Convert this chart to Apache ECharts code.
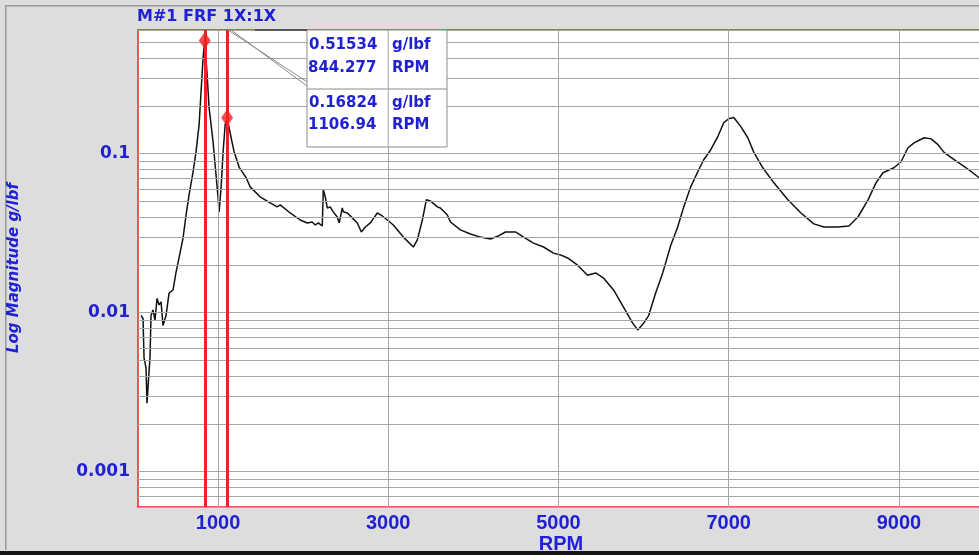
<!DOCTYPE html>
<html>
<head>
<meta charset="utf-8">
<script src="https://cdn.jsdelivr.net/npm/echarts@6/dist/echarts.min.js"></script>
<style>
  html, body { margin: 0; padding: 0; background: #dddddd; }
  #chart { width: 979px; height: 555px; }
</style>
</head>
<body>
<div id="chart"></div>
<script>
// FRF magnitude (RPM, g/lbf)
const rpm = [
  95, 119, 131, 154, 166, 189, 201, 213, 236, 260, 284, 307, 331, 354, 389, 425, 472, 507, 542, 589,
  625, 660, 707, 742, 778, 801, 825, 844, 872, 895, 942, 966, 1001, 1013, 1036, 1060, 1084, 1107, 1154, 1189,
  1250, 1331, 1378, 1495, 1613, 1695, 1731, 1848, 1966, 2048, 2107, 2142, 2178, 2225, 2237, 2260, 2284, 2319, 2354, 2401,
  2425, 2460, 2472, 2519, 2578, 2637, 2684, 2731, 2790, 2872, 2931, 2990, 3060, 3178, 3295, 3342, 3401, 3448, 3495, 3578,
  3613, 3695, 3731, 3848, 3966, 4084, 4201, 4295, 4378, 4495, 4590, 4707, 4825, 4942, 5025, 5107, 5225, 5342, 5437, 5531,
  5648, 5766, 5872, 5931, 6001, 6060, 6142, 6225, 6319, 6401, 6472, 6554, 6637, 6707, 6790, 6872, 6943, 7001, 7060, 7143,
  7225, 7296, 7401, 7531, 7696, 7849, 8001, 8119, 8284, 8413, 8519, 8637, 8731, 8813, 8942, 9025, 9107, 9178, 9296, 9378,
  9460, 9531, 9649, 9790, 9943, 10000
];
const mag = [
  0.0096, 0.0092, 0.0052, 0.0045, 0.0027, 0.0042, 0.0052, 0.0096, 0.0104, 0.0090, 0.0123, 0.0112, 0.0117, 0.0083, 0.0096, 0.0133, 0.0139, 0.0180, 0.0221, 0.0295,
  0.0412, 0.0551, 0.0770, 0.103, 0.152, 0.246, 0.403, 0.515, 0.315, 0.195, 0.119, 0.0852, 0.0528, 0.0431, 0.0610, 0.103, 0.152, 0.168, 0.126, 0.103,
  0.082, 0.0706, 0.0619, 0.0536, 0.0491, 0.0463, 0.0477, 0.0424, 0.0383, 0.0367, 0.0372, 0.0356, 0.0367, 0.0351, 0.0593, 0.0536, 0.0456, 0.0463, 0.0431, 0.0400,
  0.0367, 0.0456, 0.0431, 0.0424, 0.0395, 0.0367, 0.0322, 0.0346, 0.0367, 0.0424, 0.0406, 0.0383, 0.0356, 0.0299, 0.0259, 0.0287, 0.0383, 0.0513, 0.0505, 0.0463,
  0.0456, 0.0412, 0.0372, 0.0332, 0.0313, 0.0299, 0.0291, 0.0304, 0.0322, 0.0322, 0.0299, 0.0274, 0.0259, 0.0237, 0.0231, 0.0221, 0.0199, 0.0172, 0.0178, 0.0165,
  0.0139, 0.0108, 0.0086, 0.0078, 0.0086, 0.0096, 0.0133, 0.0178, 0.0265, 0.0346, 0.0463, 0.0619, 0.0770, 0.0917, 0.106, 0.128, 0.157, 0.166, 0.169, 0.148,
  0.126, 0.102, 0.0816, 0.0656, 0.0513, 0.0424, 0.0362, 0.0346, 0.0346, 0.0351, 0.0400, 0.0513, 0.0656, 0.0759, 0.0816, 0.0890, 0.109, 0.117, 0.126, 0.124,
  0.114, 0.102, 0.0917, 0.0816, 0.0706, 0.067
];

const xTicks = [1000, 3000, 5000, 7000, 9000];
const yTicks = [0.001, 0.01, 0.1];
// log grid: 6..9 e-4, 1..9 e-3, 1..9 e-2, 1..6 e-1
const yGrid = [
  0.0006, 0.0007, 0.0008, 0.0009,
  0.001, 0.002, 0.003, 0.004, 0.005, 0.006, 0.007, 0.008, 0.009,
  0.01, 0.02, 0.03, 0.04, 0.05, 0.06, 0.07, 0.08, 0.09,
  0.1, 0.2, 0.3, 0.4, 0.5, 0.6
];

const markerRpm = [844.277, 1106.94];
const markerMag = [0.51534, 0.16824];
const markerText = [
  ['0.51534', 'g/lbf', '844.277', 'RPM'],
  ['0.16824', 'g/lbf', '1106.94', 'RPM']
];

const BLUE = '#2121d4';
const RED = '#ee2222';
const GRIDC = '#a6a6a6';

const chart = echarts.init(document.getElementById('chart'));

const option = {
  backgroundColor: '#dddddd',
  animation: false,
  title: {
    text: 'M#1 FRF 1X:1X',
    left: 137,
    top: 9,
    padding: 0,
    textStyle: { color: BLUE, fontFamily: 'DejaVu Sans', fontWeight: 'bold', fontSize: 16 }
  },
  grid: {
    left: 138,
    top: 30,
    width: 846,
    height: 477,
    outerBoundsMode: 'none',
    containLabel: false,
    show: true,
    backgroundColor: '#ffffff',
    borderColor: RED,
    borderWidth: 1.5
  },
  xAxis: {
    type: 'value',
    min: 60,
    max: 10000,
    axisLine: { show: false },
    splitLine: { show: false },
    axisTick: { show: true, inside: true, length: 4, customValues: xTicks, lineStyle: { color: RED } },
    axisLabel: {
      customValues: xTicks,
      formatter: v => String(v),
      color: BLUE,
      fontFamily: 'Liberation Sans',
      fontWeight: 'bold',
      fontSize: 20,
      margin: 6
    },
    name: 'RPM',
    nameLocation: 'middle',
    nameGap: 27,
    nameMoveOverlap: false,
    nameTextStyle: { color: BLUE, fontFamily: 'Liberation Sans', fontWeight: 'bold', fontSize: 20 }
  },
  yAxis: {
    type: 'log',
    logBase: 10,
    min: 0.0006,
    max: 0.6,
    axisLine: { show: false },
    splitLine: { show: false },
    minorSplitLine: { show: false },
    axisTick: { show: true, inside: true, length: 4, customValues: yTicks, lineStyle: { color: RED } },
    axisLabel: {
      customValues: yTicks,
      formatter: v => String(v),
      color: BLUE,
      fontFamily: 'DejaVu Sans',
      fontWeight: 'bold',
      fontSize: 17,
      margin: 8
    }
  },
  series: [
    {
      // grid lines
      type: 'scatter',
      data: [],
      z: 1,
      silent: true,
      markLine: {
        silent: true,
        precision: 6,
        symbol: 'none',
        label: { show: false },
        lineStyle: { color: GRIDC, width: 1, type: 'solid' },
        data: yGrid.map(v => ({ yAxis: v })).concat(xTicks.map(v => ({ xAxis: v })))
      }
    },
    {
      type: 'line',
      data: rpm.map((r, i) => [r, mag[i]]),
      showSymbol: false,
      z: 3,
      lineStyle: { color: '#111111', width: 1.5 }
    },
    {
      type: 'scatter',
      data: markerRpm.map((r, i) => [r, markerMag[i]]),
      symbol: 'diamond',
      symbolSize: [12, 17],
      itemStyle: { color: RED },
      z: 6,
      markLine: {
        silent: true,
        precision: 6,
        symbol: 'none',
        label: { show: false },
        lineStyle: { color: RED, width: 3, type: 'solid' },
        data: markerRpm.map(v => ({ xAxis: v }))
      }
    }
  ]
};

chart.setOption(option);

// annotation box, leader lines, frame
const top2 = chart.convertToPixel({ gridIndex: 0 }, [markerRpm[1], 0.6]);
const g3000 = chart.convertToPixel({ gridIndex: 0 }, [3000, 0.6]);
const boxL = 307, boxR = 447, boxT = 30, boxM = 89, boxB = 147;
const txt = (x, y, s) => ({
  type: 'text', x: x, y: y, z: 20,
  style: { text: s, fill: BLUE, font: 'bold 15px "DejaVu Sans"', verticalAlign: 'middle', align: 'left' }
});

chart.setOption({
  graphic: [
    { type: 'rect', shape: { x: 5, y: 5, width: 974, height: 1.5 }, style: { fill: '#999999' }, z: 1 },
    { type: 'rect', shape: { x: 5, y: 5, width: 1.5, height: 545 }, style: { fill: '#999999' }, z: 1 },
    { type: 'rect', shape: { x: 0, y: 551, width: 979, height: 4 }, style: { fill: '#151515' }, z: 1 },
    {
      type: 'text', x: 14, y: 268, rotation: Math.PI / 2, z: 10,
      style: {
        text: 'Log Magnitude g/lbf', fill: BLUE,
        font: 'italic bold 15px "DejaVu Sans"', align: 'center', verticalAlign: 'middle'
      }
    },
    { type: 'line', shape: { x1: top2[0] + 1, y1: top2[1], x2: boxL + 11, y2: boxM }, style: { stroke: '#888888', lineWidth: 1 }, z: 15 },
    { type: 'line', shape: { x1: top2[0] + 4, y1: top2[1], x2: boxL, y2: boxM - 3 }, style: { stroke: '#888888', lineWidth: 1 }, z: 15 },
    { type: 'line', shape: { x1: 255, y1: boxT, x2: boxL, y2: boxT }, style: { stroke: '#555555', lineWidth: 2 }, z: 15 },
    { type: 'rect', shape: { x: boxL, y: boxT, width: boxR - boxL, height: boxB - boxT }, style: { fill: '#ffffff', stroke: '#8c8c8c', lineWidth: 1 }, z: 16 },
    { type: 'line', shape: { x1: boxL, y1: boxM, x2: boxR, y2: boxM }, style: { stroke: '#8c8c8c', lineWidth: 1 }, z: 17 },
    { type: 'line', shape: { x1: g3000[0], y1: boxT, x2: g3000[0], y2: boxB }, style: { stroke: GRIDC, lineWidth: 1 }, z: 17 },
    txt(309, 45, markerText[0][0]), txt(392, 45, markerText[0][1]),
    txt(308, 68, markerText[0][2]), txt(392, 68, markerText[0][3]),
    txt(309, 103, markerText[1][0]), txt(392, 103, markerText[1][1]),
    txt(308, 125, markerText[1][2]), txt(392, 125, markerText[1][3])
  ]
});
</script>
</body>
</html>
